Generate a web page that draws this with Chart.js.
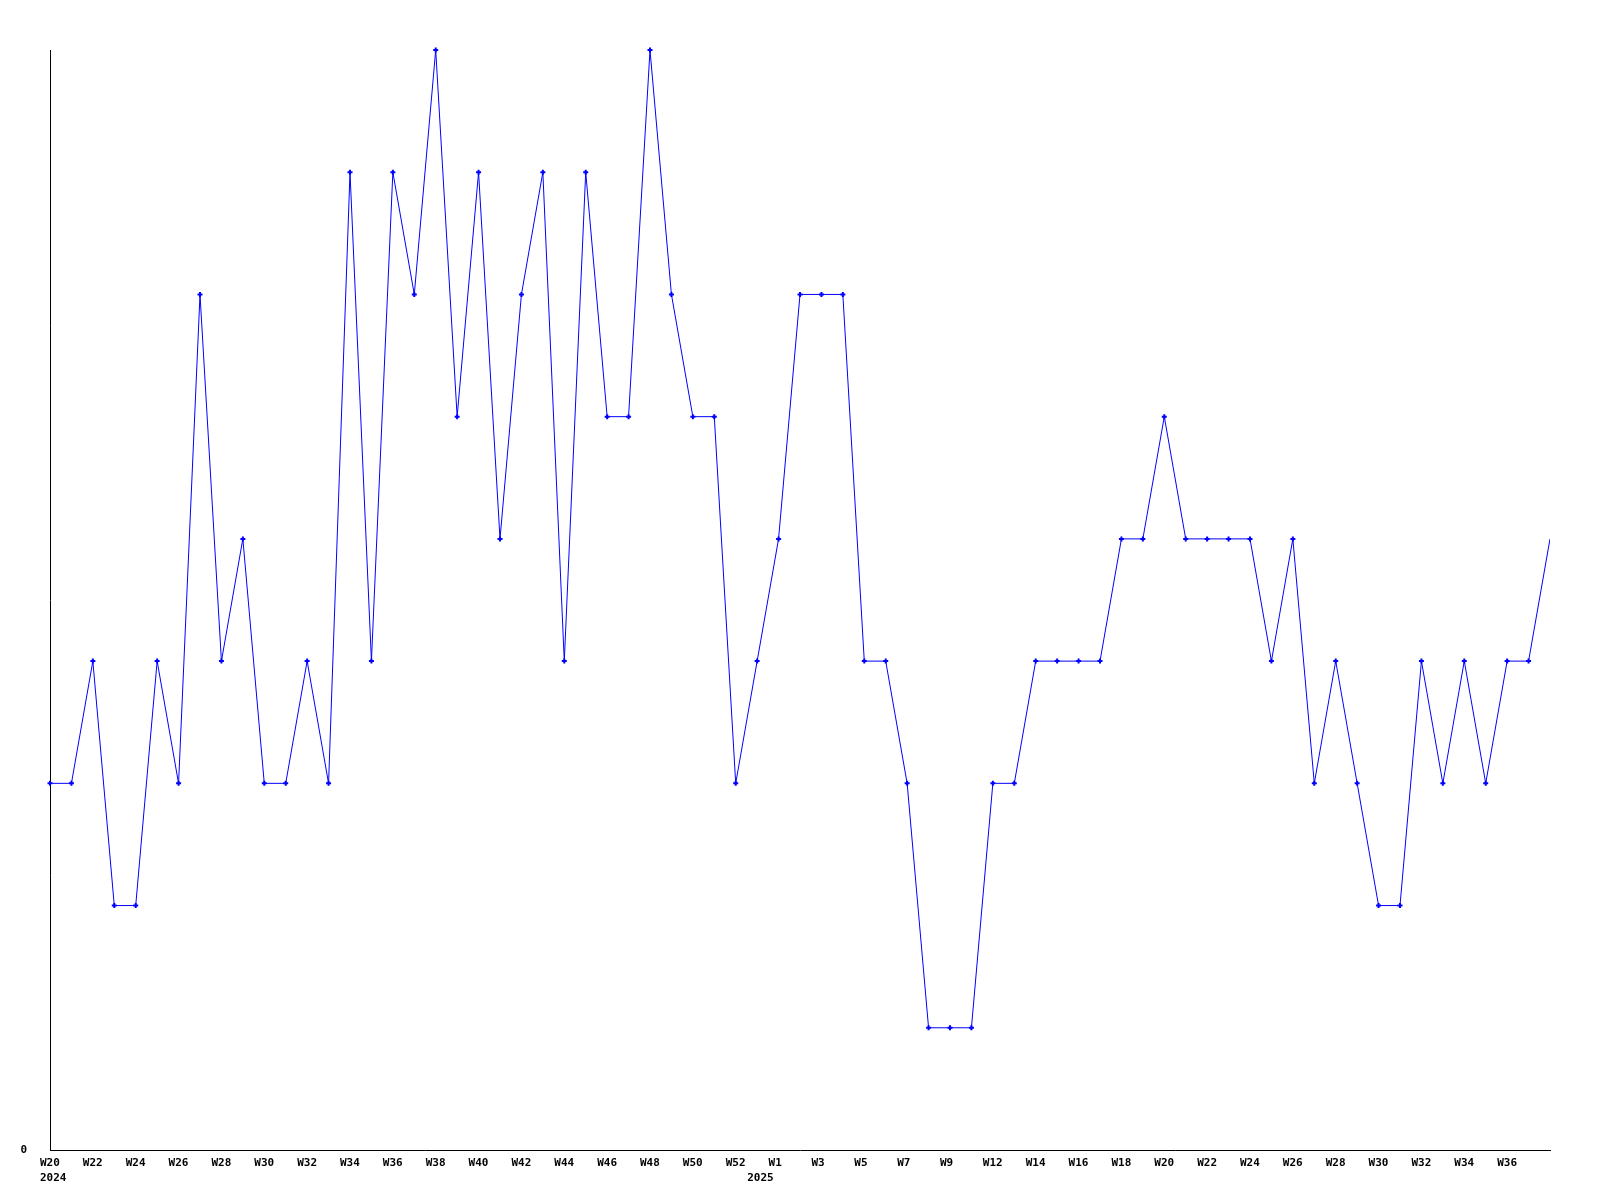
<!DOCTYPE html>
<html>
<head>
<meta charset="utf-8">
<script src="https://cdn.jsdelivr.net/npm/chart.js@4/dist/chart.umd.min.js"></script>
<style>
  html, body { margin: 0; padding: 0; background: #fff; }
  #wrap { width: 1600px; height: 1200px; position: relative; }
</style>
</head>
<body>
<div id="wrap"><canvas id="weekly-chart"></canvas></div>
<script>
/* ─── DATA ─── */
const weeks = [
  '2024-W20','2024-W21','2024-W22','2024-W23','2024-W24','2024-W25','2024-W26','2024-W27',
  '2024-W28','2024-W29','2024-W30','2024-W31','2024-W32','2024-W33','2024-W34','2024-W35',
  '2024-W36','2024-W37','2024-W38','2024-W39','2024-W40','2024-W41','2024-W42','2024-W43',
  '2024-W44','2024-W45','2024-W46','2024-W47','2024-W48','2024-W49','2024-W50','2024-W51',
  '2024-W52','2025-W0','2025-W1','2025-W2','2025-W3','2025-W4','2025-W5','2025-W6',
  '2025-W7','2025-W8','2025-W9','2025-W11','2025-W12','2025-W13','2025-W14','2025-W15',
  '2025-W16','2025-W17','2025-W18','2025-W19','2025-W20','2025-W21','2025-W22','2025-W23',
  '2025-W24','2025-W25','2025-W26','2025-W27','2025-W28','2025-W29','2025-W30','2025-W31',
  '2025-W32','2025-W33','2025-W34','2025-W35','2025-W36','2025-W37','2025-W38'
];

const values = [
  3, 3, 4, 2, 2, 4, 3, 7, 4, 5,
  3, 3, 4, 3, 8, 4, 8, 7, 9, 6,
  8, 5, 7, 8, 4, 8, 6, 6, 9, 7,
  6, 6, 3, 4, 5, 7, 7, 7, 4, 4,
  3, 1, 1, 1, 3, 3, 4, 4, 4, 4,
  5, 5, 6, 5, 5, 5, 5, 4, 5, 3,
  4, 3, 2, 2, 4, 3, 4, 3, 4, 4,
  5
];

const yTicks = [0];          // only the zero label is printed
const lastLabeledWeek = 68;  // W37/W38 carry no label in the original

/* ─── CHART ─── */
const font = { family: 'DejaVu Sans Mono', size: 11, weight: 'bold', lineHeight: 1.35 };

function xLabel(value, i) {
  const [yr, wk] = weeks[i].split('-');
  const prevYr = i > 0 ? weeks[i - 1].split('-')[0] : null;
  const lines = [(i % 2 === 0 && i <= lastLabeledWeek) ? wk : ''];
  if (yr !== prevYr) lines.push(yr);
  if (lines.length === 1 && lines[0] === '') return null;
  return lines;
}

new Chart(document.getElementById('weekly-chart'), {
  type: 'line',
  data: {
    labels: weeks,
    datasets: [{
      data: values,
      borderColor: '#0000ff',
      borderWidth: 1,
      tension: 0,
      pointStyle: 'cross',
      // the last point sits on the right edge and is cut off in the original
      pointRadius: ctx => ctx.dataIndex === values.length - 1 ? 0 : 2.5,
      pointBorderColor: '#0000ff',
      pointBorderWidth: 2,
      clip: { left: 5, top: 5, right: 0, bottom: 5 },
      fill: false
    }]
  },
  options: {
    responsive: true,
    maintainAspectRatio: false,
    animation: false,
    layout: { padding: { top: 50, right: 50, left: 0, bottom: 0 } },
    plugins: { legend: { display: false }, tooltip: { enabled: false } },
    scales: {
      x: {
        grid: { display: false, drawTicks: false },
        border: { display: true, color: '#000', width: 1 },
        ticks: {
          autoSkip: false,
          maxRotation: 0,
          align: 'start',
          labelOffset: -10,
          padding: 6,
          color: '#000',
          font,
          callback: xLabel
        },
        afterFit: s => { s.height = 50; }
      },
      y: {
        min: 0,
        max: 9,
        grid: { display: false, drawTicks: false },
        border: { display: true, color: '#000', width: 1 },
        ticks: {
          stepSize: 1,
          padding: 23,
          color: '#000',
          font,
          callback: v => yTicks.includes(v) ? String(v) : null
        },
        afterFit: s => { s.width = 50; }
      }
    }
  }
});
</script>
</body>
</html>
